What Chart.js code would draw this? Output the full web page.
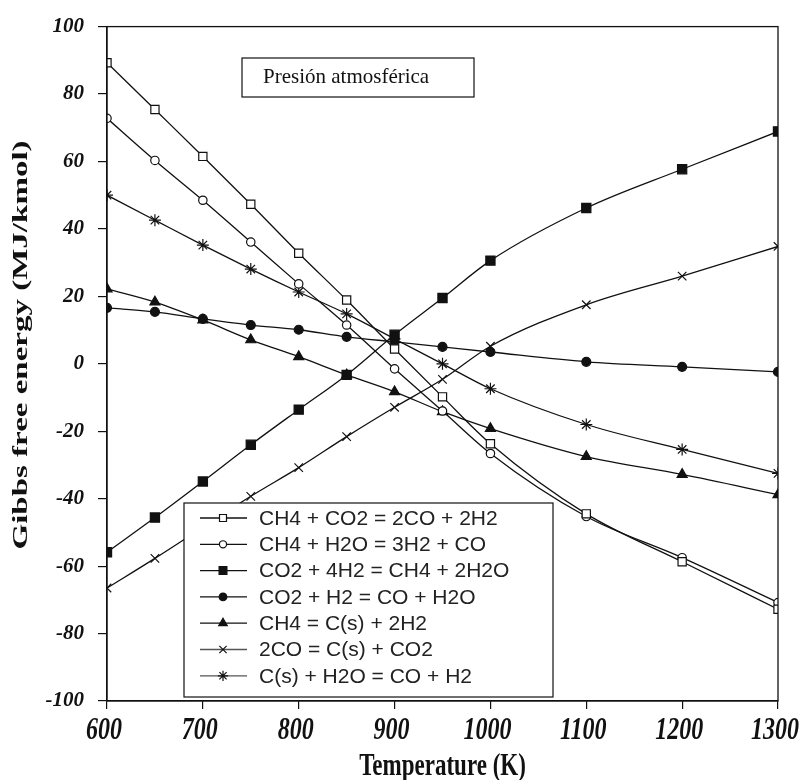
<!DOCTYPE html>
<html>
<head>
<meta charset="utf-8">
<script src="https://cdn.jsdelivr.net/npm/chart.js@4/dist/chart.umd.min.js"></script>
<style>
  html, body { margin: 0; padding: 0; background: #fff; }
  #wrap { width: 808px; height: 780px; }
</style>
</head>
<body>
<div id="wrap"><canvas id="chart" width="808" height="780"></canvas></div>
<script>
// Temperatures (K)
const temps = [600, 650, 700, 750, 800, 850, 900, 950, 1000, 1100, 1200, 1300];

// Gibbs free energy (MJ/kmol) per reaction
const dryReforming = [89.3, 75.4, 61.5, 47.3, 32.8, 18.9, 4.4, -9.8, -23.7, -44.5, -58.7, -72.8];
const steamReforming = [72.8, 60.3, 48.5, 36.1, 23.7, 11.5, -1.5, -14.0, -26.6, -45.3, -57.5, -70.8];
const methanation = [-55.9, -45.6, -34.9, -24.0, -13.6, -3.3, 8.6, 19.5, 30.6, 46.2, 57.7, 68.9];
const reverseShift = [16.6, 15.4, 13.3, 11.5, 10.1, 8.0, 6.5, 5.0, 3.5, 0.6, -0.9, -2.4];
const methaneCracking = [22.2, 18.3, 13.0, 7.1, 2.1, -3.3, -8.3, -14.2, -19.2, -27.5, -32.8, -38.8];
const boudouard = [-66.5, -57.7, -48.5, -39.3, -30.8, -21.6, -12.9, -4.6, 5.2, 17.5, 26.0, 34.8];
const gasification = [50.0, 42.6, 35.2, 28.1, 21.3, 14.8, 7.4, 0.0, -7.4, -18.0, -25.4, -32.5];

const seriesLabels = [
  "CH4 + CO2 = 2CO + 2H2",
  "CH4 + H2O = 3H2 + CO",
  "CO2 + 4H2 = CH4 + 2H2O",
  "CO2 + H2 = CO + H2O",
  "CH4 = C(s) + 2H2",
  "2CO = C(s) + CO2",
  "C(s) + H2O = CO + H2",
];
const seriesData = [dryReforming, steamReforming, methanation, reverseShift, methaneCracking, boudouard, gasification];
const markerStyles = ["rect", "circle", "rect", "circle", "triangle", "crossRot", "star"];
const markerFilled = [false, false, true, true, true, true, true];
const markerRadius = [5.8, 4.2, 6.5, 4.5, 5.8, 6, 6];

const xTickLabels = ["600", "700", "800", "900", "1000", "1100", "1200", "1300"];
const yTickStep = 20;

const SERIF = "'Liberation Serif', 'Times New Roman', serif";
const SANS = "'Liberation Sans', Arial, sans-serif";

function makeDataset(i) {
  return {
    label: seriesLabels[i],
    data: temps.map((t, k) => ({ x: t, y: seriesData[i][k] })),
    borderColor: "#111",
    borderWidth: 1.3,
    backgroundColor: markerFilled[i] ? "#111" : "#fff",
    pointBorderColor: "#111",
    pointBorderWidth: 1.2,
    pointStyle: markerStyles[i],
    pointRadius: markerRadius[i],
    cubicInterpolationMode: "monotone",
    fill: false,
  };
}

function drawStretched(ctx, text, x, y, rot, sx, sy) {
  ctx.save();
  ctx.translate(x, y);
  ctx.rotate(rot);
  ctx.scale(sx, sy);
  ctx.fillText(text, 0, 0);
  ctx.restore();
}

// Frame, axis labels, title box and legend
const decorPlugin = {
  id: "decor",
  afterDraw(chart) {
    const ctx = chart.ctx;
    const area = chart.chartArea;
    const xScale = chart.scales.x;

    ctx.save();
    ctx.strokeStyle = "#111";
    ctx.lineWidth = 1.3;
    ctx.strokeRect(area.left, area.top, area.right - area.left, area.bottom - area.top);

    // x tick labels
    ctx.fillStyle = "#111";
    ctx.font = "italic bold 24px " + SERIF;
    ctx.textAlign = "center";
    ctx.textBaseline = "alphabetic";
    xTickLabels.forEach((lbl) => {
      const px = xScale.getPixelForValue(Number(lbl));
      drawStretched(ctx, lbl, px - 3, 739, 0, 1, 1.3);
    });

    // axis titles
    ctx.font = "bold 23px " + SERIF;
    drawStretched(ctx, "Temperature (K)", (area.left + area.right) / 2, 775, 0, 1, 1.35);
    ctx.textBaseline = "middle";
    ctx.font = "bold 22px " + SERIF;
    drawStretched(ctx, "Gibbs free energy (MJ/kmol)", 21, 345, -Math.PI / 2, 1.5, 1);

    // title box
    ctx.fillStyle = "#fff";
    ctx.fillRect(242, 58, 232, 39);
    ctx.lineWidth = 1.2;
    ctx.strokeRect(242, 58, 232, 39);
    ctx.fillStyle = "#111";
    ctx.textAlign = "left";
    ctx.textBaseline = "alphabetic";
    ctx.font = "21px " + SERIF;
    ctx.fillText("Presión atmosférica", 263, 83);

    // legend
    const lx = 184, ly = 503, lw = 369, lh = 194;
    ctx.fillStyle = "#fff";
    ctx.fillRect(lx, ly, lw, lh);
    ctx.strokeStyle = "#111";
    ctx.lineWidth = 1.2;
    ctx.strokeRect(lx, ly, lw, lh);
    ctx.font = "21px " + SANS;
    ctx.textBaseline = "middle";
    chart.data.datasets.forEach((ds, i) => {
      const ry = 518 + i * 26.3;
      ctx.strokeStyle = i >= 5 ? "#555" : "#111";
      ctx.lineWidth = 1.3;
      ctx.beginPath();
      ctx.moveTo(200, ry);
      ctx.lineTo(247, ry);
      ctx.stroke();
      ctx.fillStyle = ds.backgroundColor;
      ctx.strokeStyle = "#111";
      ctx.lineWidth = 1.2;
      Chart.helpers.drawPoint(ctx, { pointStyle: ds.pointStyle, radius: ds.pointRadius * 0.85, borderWidth: 1.2 }, 223, ry);
      ctx.fillStyle = "#222";
      ctx.fillText(ds.label, 259, ry + 1);
    });
    ctx.restore();
  },
};

const ctx = document.getElementById("chart").getContext("2d");
new Chart(ctx, {
  type: "line",
  data: { datasets: seriesData.map((_, i) => makeDataset(i)) },
  options: {
    responsive: false,
    animation: false,
    layout: { padding: { top: 24, right: 30, left: 0, bottom: 0 } },
    plugins: {
      legend: { display: false },
      tooltip: { enabled: false },
    },
    scales: {
      x: {
        type: "linear",
        min: 600,
        max: 1300,
        ticks: { stepSize: 100, display: false },
        grid: { display: true, drawOnChartArea: false, drawTicks: true, tickLength: 8, color: "#111", lineWidth: 1.2 },
        border: { display: true, color: "#111", width: 1.3 },
        afterFit: (scale) => { scale.height = 79; },
      },
      y: {
        type: "linear",
        min: -100,
        max: 100,
        ticks: {
          stepSize: yTickStep,
          color: "#111",
          padding: 14,
          font: { family: SERIF, size: 21, style: "italic", weight: "bold" },
        },
        grid: { display: true, drawOnChartArea: false, drawTicks: true, tickLength: 9, color: "#111", lineWidth: 1.2 },
        border: { display: true, color: "#111", width: 1.3 },
        afterFit: (scale) => { scale.width = 107; },
      },
    },
  },
  plugins: [decorPlugin],
});
</script>
</body>
</html>
